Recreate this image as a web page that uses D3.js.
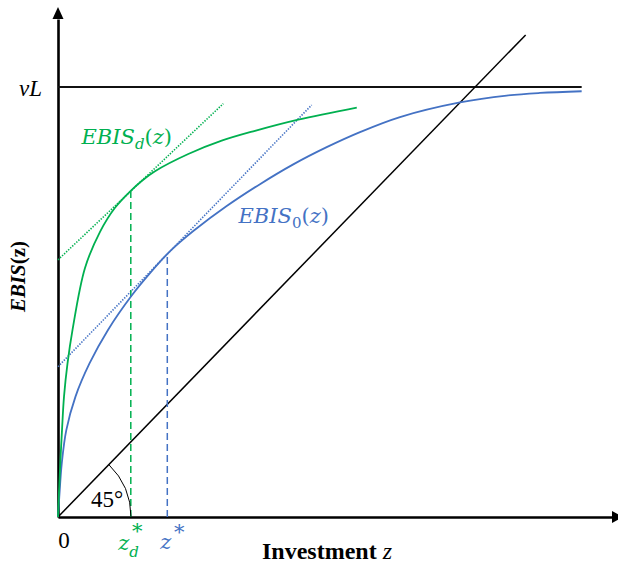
<!DOCTYPE html>
<html><head><meta charset="utf-8">
<script src="https://cdn.jsdelivr.net/npm/d3@7"></script>
<style>html,body{margin:0;padding:0;background:#fff;} svg{display:block;}</style>
</head><body><svg id="chart" width="618" height="565"></svg>
<script>
// ---------- data (units: nu*L = 1, diagonal is y = x) ----------
const nuL = 1;
const zStarD = 0.1745;           // z_d*
const zStar = 0.262;             // z*
const capEnd = 1.2553;           // end of the nu*L line
const diagonal = [[0, 0], [1.121, 1.121]];
const ebisD = [[0,0],[0.0019,0.047],[0.0055,0.125],[0.0096,0.202],[0.0144,0.280],[0.0228,0.357],
  [0.0348,0.435],[0.0647,0.579],[0.1007,0.663],[0.1366,0.719],[0.1750,0.759],[0.2013,0.782],
  [0.2325,0.804],[0.3123,0.844],[0.3924,0.875],[0.4722,0.898],[0.5760,0.924],[0.7162,0.952]];
const ebis0 = [[0,0],[0.0031,0.047],[0.0091,0.125],[0.0199,0.202],[0.0419,0.280],[0.0755,0.357],
  [0.1198,0.435],[0.1767,0.515],[0.2205,0.567],[0.2605,0.610],[0.2924,0.639],[0.3243,0.665],
  [0.4044,0.723],[0.4842,0.774],[0.5640,0.820],[0.6441,0.860],[0.7239,0.895],[0.8198,0.930],
  [0.9636,0.964],[1.0755,0.980],[1.1553,0.986],[1.2553,0.990]];
const tangentD = [[0, 0.598], [0.3962, 0.9612]];
const tangent0 = [[0, 0.3495], [0.6081, 0.9581]];
const dropD = [zStarD, 0.759];
const drop0 = [zStar, 0.610];

const GREEN = "#00B050", BLUE = "#4472C4";

// ---------- scales ----------
const svg = d3.select("#chart");
const x = d3.scaleLinear().domain([0, 1.328]).range([58, 612]);
const y = d3.scaleLinear().domain([0, 1.158]).range([517, 19]);
const line = d3.line().x(d => x(d[0])).y(d => y(d[1]));
const curve = d3.line().x(d => x(d[0])).y(d => y(d[1])).curve(d3.curveCatmullRom.alpha(0.5));

// ---------- axes ----------
const gx = svg.append("g").attr("transform", `translate(0,${y(0)})`)
  .call(d3.axisBottom(x).tickValues([]).tickSizeOuter(0));
const gy = svg.append("g").attr("transform", `translate(${x(0)},0)`)
  .call(d3.axisLeft(y).tickValues([]).tickSizeOuter(0));
[gx, gy].forEach(g => g.select(".domain").attr("stroke", "#000").attr("stroke-width", 2.6));
// arrow heads
svg.append("path").attr("d", `M${x(0)-5.5},${y.range()[1]} L${x(0)+5.5},${y.range()[1]} L${x(0)},${y.range()[1]-12} Z`).attr("fill", "#000");
svg.append("path").attr("d", `M${x.range()[1]},${y(0)-6} L${x.range()[1]},${y(0)+6} L${x.range()[1]+11},${y(0)} Z`).attr("fill", "#000");

// ---------- reference lines ----------
svg.append("path").datum([[0, nuL], [capEnd, nuL]]).attr("d", line)
  .attr("stroke", "#111").attr("stroke-width", 2).attr("fill", "none");
svg.append("path").datum(diagonal).attr("d", line)
  .attr("stroke", "#000").attr("stroke-width", 1.5).attr("fill", "none");

// tangents (dotted)
svg.append("path").datum(tangentD).attr("d", line)
  .attr("stroke", GREEN).attr("stroke-width", 1.6).attr("stroke-dasharray", "1.4,1.4").attr("fill", "none");
svg.append("path").datum(tangent0).attr("d", line)
  .attr("stroke", BLUE).attr("stroke-width", 1.6).attr("stroke-dasharray", "1.4,1.4").attr("fill", "none");

// drop lines (dashed)
svg.append("path").datum([[dropD[0], 0], dropD]).attr("d", line)
  .attr("stroke", GREEN).attr("stroke-width", 1.5).attr("stroke-dasharray", "7,4").attr("fill", "none");
svg.append("path").datum([[drop0[0], 0], drop0]).attr("d", line)
  .attr("stroke", BLUE).attr("stroke-width", 1.5).attr("stroke-dasharray", "7,4").attr("fill", "none");

// curves
svg.append("path").datum(ebis0).attr("d", curve)
  .attr("stroke", BLUE).attr("stroke-width", 1.8).attr("fill", "none");
svg.append("path").datum(ebisD).attr("d", curve)
  .attr("stroke", GREEN).attr("stroke-width", 1.8).attr("fill", "none");

// 45 degree arc
const ang = Math.atan2(y(diagonal[1][1]) - y(0), x(diagonal[1][0]) - x(0));
const p = d3.path();
p.arc(x(0), y(0), 73, ang, 0, false);
svg.append("path").attr("d", p.toString()).attr("stroke", "#000").attr("stroke-width", 1).attr("fill", "none");

// ---------- texts ----------
const SERIF = "'Liberation Serif', 'DejaVu Serif', serif";
const MATH = "'DejaVu Serif', serif";

svg.append("text").attr("x", x(0) + 49).attr("y", y(0) - 10).attr("text-anchor", "middle")
  .attr("font-family", SERIF).attr("font-size", 23).text("45°");

svg.append("text").attr("x", x(0) - 16).attr("y", y(nuL) + 9).attr("text-anchor", "end")
  .attr("font-family", SERIF).attr("font-style", "italic").attr("font-size", 23).text("νL");

svg.append("text").attr("x", x(0) + 6).attr("y", 548).attr("text-anchor", "middle")
  .attr("font-family", SERIF).attr("font-size", 23).text("0");

// z_d*
svg.append("text").attr("x", x(zStarD) - 12.5).attr("y", 550).attr("fill", GREEN)
  .attr("font-family", MATH).attr("font-style", "italic").attr("font-size", 21).text("z");
svg.append("text").attr("x", x(zStarD) - 1.5).attr("y", 557).attr("fill", GREEN)
  .attr("font-family", MATH).attr("font-style", "italic").attr("font-size", 15).text("d");
svg.append("text").attr("x", x(zStarD) + 6.5).attr("y", 538).attr("fill", GREEN).attr("text-anchor", "middle")
  .attr("font-family", MATH).attr("font-size", 21).text("*");
// z*
svg.append("text").attr("x", x(zStar) - 7).attr("y", 549).attr("fill", BLUE)
  .attr("font-family", MATH).attr("font-style", "italic").attr("font-size", 21).text("z");
svg.append("text").attr("x", x(zStar) + 12).attr("y", 539).attr("fill", BLUE).attr("text-anchor", "middle")
  .attr("font-family", MATH).attr("font-size", 21).text("*");

// axis titles
svg.append("text").attr("x", 327).attr("y", 559).attr("text-anchor", "middle")
  .attr("font-family", SERIF).attr("font-weight", "bold").attr("font-size", 24)
  .call(t => { t.append("tspan").text("Investment "); t.append("tspan").attr("font-style", "italic").attr("font-weight", "normal").text("z"); });
svg.append("text").attr("transform", "translate(25,276.5) rotate(-90)").attr("text-anchor", "middle")
  .attr("font-family", SERIF).attr("font-weight", "bold").attr("font-size", 21)
  .call(t => { t.append("tspan").attr("font-style", "italic").text("EBIS"); t.append("tspan").text("(z)"); });

// curve labels
function mathLabel(px, py, sub, color, subItalic) {
  const t = svg.append("text").attr("x", px).attr("y", py).attr("fill", color)
    .attr("font-family", MATH).attr("font-size", 21);
  t.append("tspan").attr("font-style", "italic").text("EBIS");
  t.append("tspan").attr("font-style", subItalic ? "italic" : "normal").attr("font-size", 15).attr("dy", 5).text(sub);
  t.append("tspan").attr("dy", -5).text("(");
  t.append("tspan").attr("font-style", "italic").text("z");
  t.append("tspan").text(")");
}
mathLabel(81.5, 144, "d", GREEN, true);
mathLabel(238.5, 223, "0", BLUE, false);
</script></body></html>
